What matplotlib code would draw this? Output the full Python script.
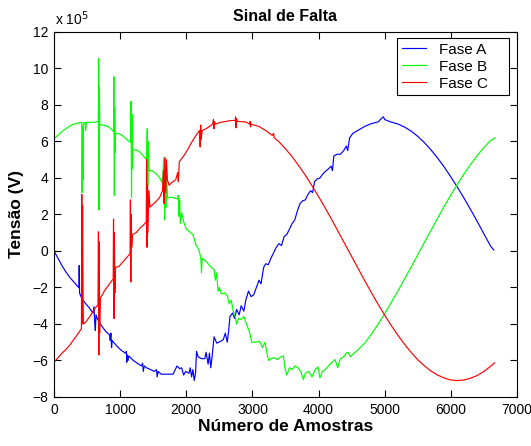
import matplotlib
matplotlib.use("Agg")
import matplotlib.pyplot as plt

plt.rcParams['font.family'] = ['Liberation Sans', 'DejaVu Sans']

# (amostra, tensao em 1e5 V)
fase_a = [
    (0, 0.0), (60, -0.4), (120, -0.8), (180, -1.15), (240, -1.45), (300, -1.7),
    (360, -1.95), (378, -2.0), (381, -0.8), (386, -2.3), (420, -2.6), (470, -2.85),
    (530, -3.1), (590, -3.4), (605, -3.05), (615, -3.9), (625, -4.35), (635, -3.5),
    (660, -3.75), (720, -4.1), (780, -4.4), (840, -4.6), (850, -4.9), (860, -4.5),
    (870, -5.3), (880, -4.9), (900, -5.0), (960, -5.25), (1020, -5.45), (1080, -5.6),
    (1095, -5.5), (1100, -6.1), (1110, -5.7), (1120, -6.0), (1130, -5.75), (1200, -6.0),
    (1260, -6.15), (1320, -6.3), (1340, -6.15), (1350, -6.6), (1365, -6.3), (1400, -6.4),
    (1460, -6.5), (1520, -6.6), (1550, -6.5), (1560, -6.9), (1575, -6.6), (1620, -6.75),
    (1700, -6.75), (1760, -6.75), (1800, -6.75), (1860, -6.3), (1900, -6.45), (1930, -6.4),
    (1960, -6.8), (1990, -6.6), (2040, -6.7), (2060, -6.4), (2080, -6.9), (2100, -6.5),
    (2120, -7.1), (2140, -6.7), (2155, -5.5), (2180, -5.8), (2230, -5.9), (2280, -5.9),
    (2300, -5.55), (2330, -6.2), (2350, -5.6), (2370, -6.4), (2390, -5.8), (2420, -4.7),
    (2460, -5.05), (2520, -4.95), (2560, -4.85), (2590, -4.5), (2620, -5.0), (2640, -4.4),
    (2660, -3.6), (2700, -3.4), (2730, -3.7), (2760, -3.2), (2800, -3.5), (2830, -3.0),
    (2870, -3.3), (2900, -2.7), (2940, -2.2), (2980, -2.5), (3020, -2.4), (3060, -2.0),
    (3100, -1.6), (3130, -1.8), (3170, -0.9), (3200, -0.7), (3240, -0.75), (3280, -0.4),
    (3320, -0.1), (3360, 0.2), (3400, 0.4), (3440, 0.3), (3480, 0.8), (3520, 0.9),
    (3560, 1.2), (3600, 1.5), (3640, 1.7), (3680, 2.2), (3720, 2.6), (3760, 2.75),
    (3800, 2.8), (3840, 3.1), (3880, 3.3), (3910, 3.2), (3940, 3.8), (3980, 3.95),
    (4020, 4.0), (4060, 4.2), (4100, 4.35), (4150, 4.5), (4190, 4.65), (4210, 4.4),
    (4230, 5.2), (4280, 5.3), (4330, 5.3), (4380, 5.5), (4420, 5.75), (4440, 5.5),
    (4470, 6.2), (4520, 6.45), (4600, 6.62), (4700, 6.83), (4800, 6.98), (4900, 7.07),
    (4960, 7.3), (4980, 7.35), (5000, 7.2), (5100, 7.06), (5200, 6.96), (5300, 6.79),
    (5400, 6.57), (5500, 6.28), (5600, 5.94), (5700, 5.54), (5800, 5.09), (5900, 4.6),
    (6000, 4.06), (6100, 3.49), (6200, 2.89), (6300, 2.26), (6400, 1.61), (6500, 0.94),
    (6600, 0.27), (6650, 0.05),
]

fase_b = [
    (0, 6.15), (60, 6.35), (120, 6.55), (180, 6.7), (240, 6.85), (300, 6.95),
    (360, 7.0), (420, 7.05), (425, 3.2), (432, 6.8), (438, 3.9), (445, 7.0),
    (470, 7.05), (480, 6.6), (490, 7.05), (550, 7.05), (620, 7.05), (670, 7.1),
    (675, 10.55), (680, 2.25), (686, 9.0), (692, 6.9), (740, 6.9), (800, 6.85),
    (860, 6.7), (900, 6.55), (905, 9.55), (912, 3.05), (918, 7.9), (924, 5.4),
    (930, 6.4), (960, 6.45), (1000, 6.4), (1060, 6.25), (1120, 6.05), (1160, 5.95),
    (1165, 8.2), (1172, 2.95), (1178, 7.5), (1185, 4.5), (1192, 5.5), (1230, 5.55),
    (1290, 5.45), (1350, 5.2), (1400, 5.0), (1410, 6.7), (1418, 3.6), (1425, 6.0),
    (1432, 4.8), (1440, 4.4), (1480, 4.4), (1540, 4.25), (1600, 4.0), (1640, 3.7),
    (1660, 5.1), (1672, 1.7), (1682, 5.15), (1694, 2.4), (1704, 4.1), (1716, 2.9),
    (1760, 2.95), (1820, 2.9), (1870, 2.85), (1880, 3.05), (1890, 1.9), (1900, 2.8),
    (1910, 1.5), (1930, 2.1), (1960, 1.6), (2000, 1.2), (2050, 1.05), (2100, 0.9),
    (2150, 0.3), (2190, 0.05), (2220, -0.35), (2230, -1.2), (2240, -0.4), (2280, -0.5),
    (2330, -0.7), (2380, -0.9), (2420, -1.0), (2440, -1.6), (2460, -1.2), (2480, -2.2),
    (2500, -2.0), (2530, -2.35), (2580, -2.3), (2620, -2.45), (2650, -2.9), (2680, -2.7),
    (2710, -3.3), (2740, -3.6), (2760, -4.0), (2790, -3.7), (2830, -3.75), (2870, -3.6),
    (2900, -3.9), (2930, -4.2), (2960, -4.5), (2990, -5.0), (3050, -5.0), (3110, -4.95),
    (3150, -5.3), (3190, -5.0), (3220, -5.6), (3245, -6.0), (3280, -5.9), (3330, -5.85),
    (3380, -5.95), (3430, -5.8), (3470, -5.75), (3490, -6.4), (3520, -6.8), (3560, -6.4),
    (3600, -6.5), (3640, -6.3), (3690, -6.4), (3730, -6.6), (3770, -7.05), (3800, -6.7),
    (3850, -6.6), (3900, -6.9), (3950, -6.5), (3990, -6.35), (4020, -6.95), (4060, -6.6),
    (4100, -6.5), (4150, -6.3), (4200, -6.1), (4250, -5.95), (4290, -6.4), (4330, -5.9),
    (4380, -5.8), (4420, -5.6), (4450, -5.55), (4480, -5.8), (4520, -5.65), (4600, -5.4),
    (4700, -5.04), (4800, -4.55), (4900, -4.01), (5000, -3.44), (5100, -2.82), (5200, -2.19),
    (5300, -1.54), (5400, -0.88), (5500, -0.2), (5600, 0.47), (5700, 1.14), (5800, 1.8),
    (5900, 2.45), (6000, 3.07), (6100, 3.66), (6200, 4.23), (6300, 4.75), (6400, 5.23),
    (6500, 5.67), (6600, 6.05), (6670, 6.2),
]

fase_c = [
    (0, -6.1), (60, -5.85), (120, -5.6), (180, -5.4), (240, -5.15), (300, -4.85),
    (360, -4.55), (415, -4.25), (420, 3.1), (426, -4.0), (432, 2.5), (438, -1.9),
    (444, -4.0), (480, -3.9), (540, -3.6), (600, -3.25), (650, -3.0), (665, -2.95),
    (672, 1.05), (678, -5.7), (684, 0.5), (690, -4.5), (700, -2.6), (760, -2.2),
    (820, -1.9), (880, -1.6), (895, -1.55), (900, 1.75), (907, -3.7), (913, 1.0),
    (920, -2.3), (930, -0.9), (980, -0.85), (1040, -0.6), (1100, -0.35), (1150, -0.15),
    (1155, 2.8), (1162, -1.7), (1168, 2.0), (1175, 0.2), (1185, 0.9), (1240, 1.0),
    (1300, 1.25), (1360, 1.45), (1395, 1.6), (1400, 5.0), (1407, 0.2), (1414, 3.6),
    (1420, 1.0), (1435, 3.3), (1450, 2.4), (1480, 2.5), (1540, 2.7), (1600, 2.95),
    (1640, 3.3), (1655, 4.4), (1665, 2.6), (1675, 5.1), (1690, 3.2), (1700, 5.0),
    (1715, 3.9), (1740, 3.6), (1780, 3.75), (1840, 3.9), (1870, 4.3), (1880, 3.8),
    (1895, 4.9), (1960, 5.2), (2020, 5.55), (2080, 5.95), (2150, 6.35), (2200, 6.6),
    (2210, 5.7), (2218, 6.9), (2226, 6.1), (2240, 6.6), (2300, 6.7), (2360, 6.85),
    (2400, 6.95), (2410, 7.2), (2418, 6.7), (2426, 7.1), (2440, 6.95), (2520, 7.05),
    (2600, 7.1), (2680, 7.15), (2740, 7.15), (2745, 7.35), (2752, 6.75), (2760, 7.25),
    (2770, 7.1), (2900, 7.07), (2960, 6.95), (2965, 7.1), (2972, 6.8), (2980, 6.95),
    (3100, 6.82), (3200, 6.6), (3300, 6.33), (3320, 6.45), (3330, 6.2), (3400, 5.99),
    (3500, 5.6), (3600, 5.16), (3700, 4.68), (3800, 4.15), (3900, 3.58), (4000, 2.98),
    (4100, 2.36), (4200, 1.71), (4300, 1.04), (4400, 0.37), (4500, -0.3), (4600, -0.98),
    (4700, -1.64), (4800, -2.29), (4900, -2.92), (5000, -3.52), (5100, -4.09), (5200, -4.62),
    (5300, -5.11), (5400, -5.56), (5500, -5.96), (5600, -6.29), (5700, -6.58), (5800, -6.8),
    (5900, -6.96), (6000, -7.07), (6100, -7.1), (6200, -7.07), (6300, -6.97), (6400, -6.82),
    (6500, -6.6), (6600, -6.32), (6660, -6.13),
]

x_ticks = [0, 1000, 2000, 3000, 4000, 5000, 6000, 7000]
y_ticks = [-8, -6, -4, -2, 0, 2, 4, 6, 8, 10, 12]

fig = plt.figure(figsize=(5.31, 4.46), dpi=100)
ax = fig.add_axes([0.1017, 0.1099, 0.8719, 0.8184])

for serie, cor, nome in [(fase_a, '#0000ff', 'Fase A'),
                         (fase_b, '#00ff00', 'Fase B'),
                         (fase_c, '#ff0000', 'Fase C')]:
    xs = [p[0] for p in serie]
    ys = [p[1] for p in serie]
    ax.plot(xs, ys, color=cor, linewidth=0.85, label=nome)

ax.set_xlim(0, 7000)
ax.set_ylim(-8, 12)
ax.set_xticks(x_ticks)
ax.set_yticks(y_ticks)
ax.tick_params(direction='in', top=True, right=True, length=5, width=0.8,
               labelsize=10, pad=4)
for s in ax.spines.values():
    s.set_linewidth(0.8)

ax.text(0.002, 1.018, r'x 10$^5$', transform=ax.transAxes, fontsize=10,
        va='baseline', ha='left')
ax.set_title('Sinal de Falta', fontsize=11.5, fontweight='bold', pad=8)
ax.set_xlabel('Número de Amostras', fontsize=12.5, fontweight='bold', labelpad=2)
ax.set_ylabel('Tensão (V)', fontsize=12.5, fontweight='bold', labelpad=6)

# caixa da legenda mais larga, como no original
leg = ax.legend(loc='upper right', bbox_to_anchor=(0.7408, 0.5, 0.2419, 0.4836),
                mode='expand', fontsize=11, fancybox=False, framealpha=1,
                edgecolor='black', borderaxespad=0, handlelength=1.6,
                handletextpad=0.85, labelspacing=0.2, borderpad=0.3)
leg.get_frame().set_linewidth(0.8)

fig.savefig('out.png', dpi=100)
